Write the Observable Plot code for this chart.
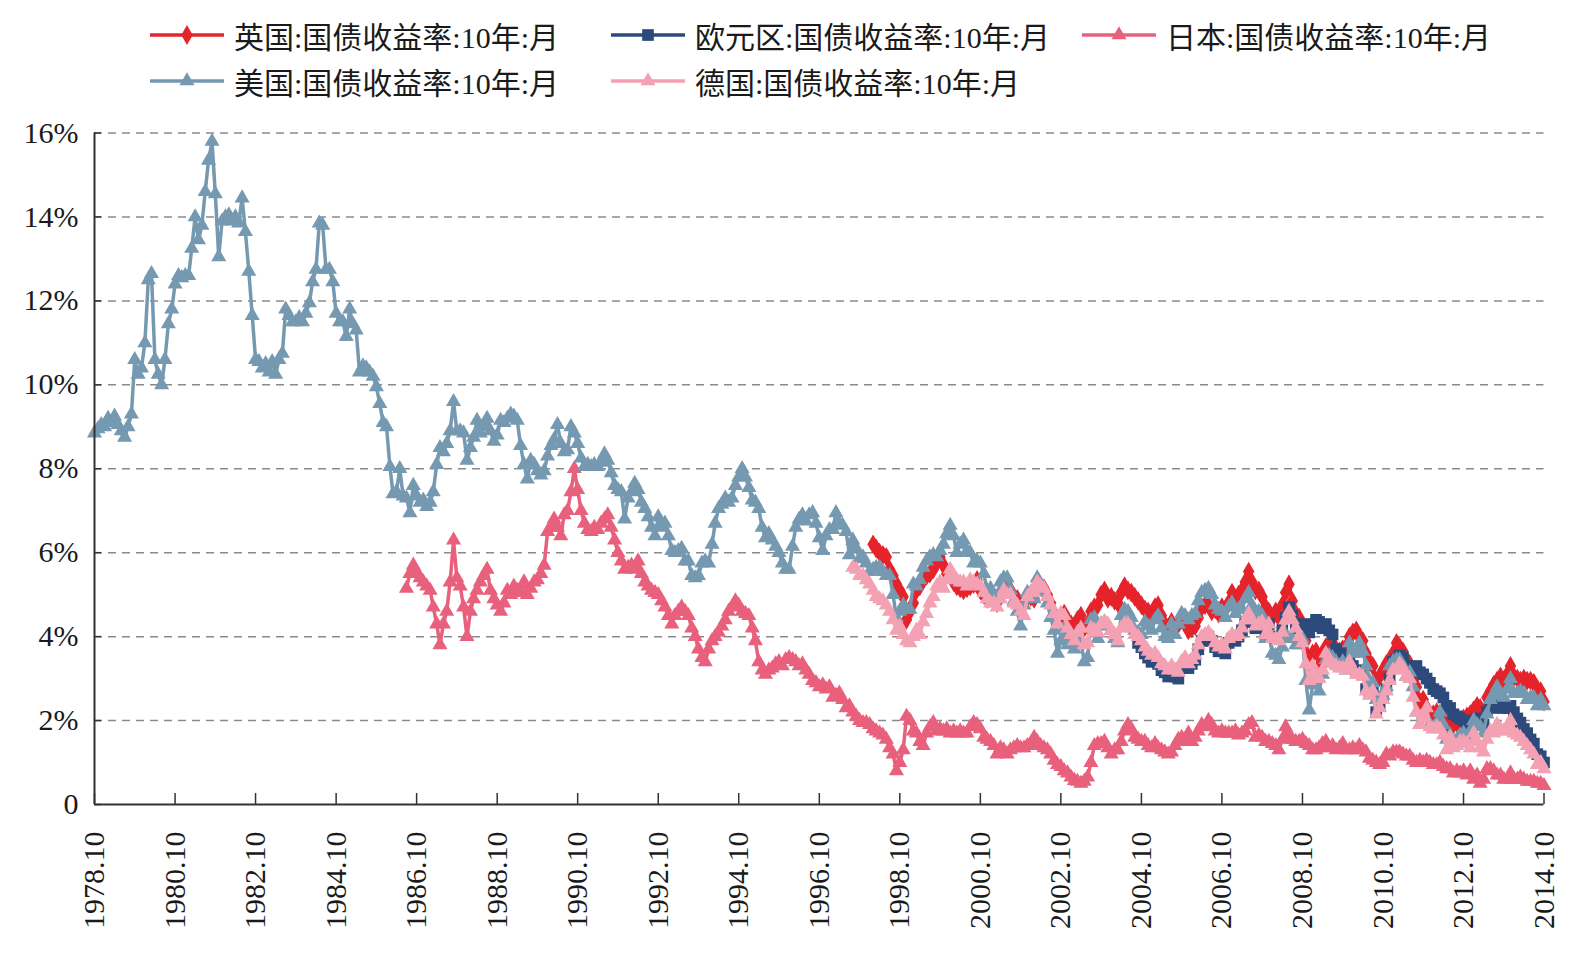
<!DOCTYPE html>
<html lang="zh">
<head>
<meta charset="utf-8">
<script src="https://cdn.jsdelivr.net/npm/d3@7"></script>
<script src="https://cdn.jsdelivr.net/npm/@observablehq/plot@0.6"></script>
<style>
  html, body { margin: 0; padding: 0; background: #fff; }
  body { width: 1586px; height: 953px; overflow: hidden; font-family: "Liberation Serif", "Noto Sans CJK SC", serif; }
  #legend { position: relative; width: 1586px; height: 105px; }
  .key { position: absolute; display: flex; align-items: center; height: 40px; font-size: 30px; color: #1a1a1a; white-space: nowrap; }
  .key svg { margin-right: 8px; }
  #chart svg { display: block; }
</style>
</head>
<body>
<div id="legend"></div>
<div id="chart"></div>
<script>
// 10-year government bond yields, month-end, in percent.
// Each series starts at the month given in its *Start constant.

const ukStart = "1998.02";
const ukYield = [
  6.2, 6.1, 6.0, 5.95, 5.9, 5.6, 5.45, 5.25, 5.1, 4.95, 4.4,
  4.6, 4.8, 5.1, 5.2, 5.35, 5.45, 5.5, 5.6, 5.75, 5.9, 5.7, 5.5,
  5.45, 5.3, 5.2, 5.15, 5.1, 5.15, 5.2, 5.25, 5.35, 5.1, 5.0, 4.9,
  4.95, 4.85, 4.8, 5.05, 5.2, 5.25, 5.1, 4.95, 4.9, 4.7, 4.8, 5.0,
  4.95, 4.9, 5.3, 5.2, 5.15, 5.0, 4.8, 4.55, 4.4, 4.5, 4.55, 4.4,
  4.3, 4.25, 4.4, 4.5, 4.2, 4.3, 4.6, 4.7, 4.75, 5.0, 5.1, 4.9,
  4.95, 4.85, 4.8, 5.05, 5.2, 5.1, 5.05, 4.95, 4.85, 4.75, 4.65, 4.6,
  4.55, 4.7, 4.75, 4.5, 4.3, 4.2, 4.35, 4.2, 4.3, 4.4, 4.3, 4.15,
  4.2, 4.25, 4.45, 4.7, 4.75, 4.75, 4.6, 4.65, 4.55, 4.7, 4.65, 4.8,
  5.05, 4.85, 5.0, 5.1, 5.3, 5.55, 5.3, 5.1, 5.1, 4.95, 4.7, 4.6,
  4.45, 4.6, 4.45, 4.75, 5.05, 5.25, 4.85, 4.55, 4.45, 4.2, 3.9, 3.4,
  3.6, 3.65, 3.3, 3.6, 3.75, 3.7, 3.85, 3.65, 3.65, 3.7, 3.75, 4.0,
  4.1, 4.15, 4.0, 3.9, 3.6, 3.4, 3.3, 2.95, 3.05, 3.2, 3.35, 3.45,
  3.6, 3.85, 3.75, 3.65, 3.45, 3.35, 2.95, 2.8, 2.45, 2.5, 2.3, 2.1,
  2.15, 2.2, 2.15, 2.1, 1.9, 1.95, 1.9, 1.95, 2.0, 2.05, 2.1, 2.15,
  2.25, 2.35, 2.3, 2.2, 2.55, 2.7, 2.85, 2.95, 3.05, 2.95, 3.1, 3.3,
  3.05, 3.0, 2.95, 3.0, 2.95, 2.95, 2.9, 2.75, 2.7, 2.45
];

const euStart = "2004.09";
const euYield = [
  3.85, 3.75, 3.6, 3.5,
  3.4, 3.45, 3.35, 3.2, 3.15, 3.05, 3.15, 3.05, 3.0, 3.25, 3.35, 3.25,
  3.35, 3.45, 3.7, 3.9, 3.95, 4.0, 3.9, 3.75, 3.65, 3.7, 3.6, 3.85,
  3.95, 3.9, 4.0, 4.15, 4.35, 4.5, 4.35, 4.2, 4.25, 4.3, 4.05, 4.3,
  4.0, 4.0, 3.95, 4.15, 4.45, 4.7, 4.5, 4.3, 4.2, 4.2, 4.3, 4.1,
  4.25, 4.4, 4.35, 4.2, 4.3, 4.15, 4.05, 3.7, 3.6, 3.55, 3.5, 3.55,
  3.3, 3.2, 3.15, 3.1, 2.75, 2.65, 2.75, 2.2, 2.35, 2.55, 2.75, 3.0,
  3.4, 3.45, 3.55, 3.5, 3.3, 3.25, 3.2, 3.3, 3.15, 3.1, 3.0, 2.9,
  2.75, 2.7, 2.65, 2.55, 2.35, 2.3, 2.15, 2.1, 2.05, 2.0, 1.95, 1.9,
  2.0, 2.05, 1.95, 1.9, 2.2, 2.35, 2.3, 2.4, 2.35, 2.3, 2.3, 2.35,
  2.2, 2.05, 1.95, 1.8, 1.7, 1.55, 1.45, 1.2, 1.15, 1.0
];

const jpStart = "1986.07";
const jpYield = [
  5.15, 5.5, 5.7, 5.55, 5.4, 5.3,
  5.2, 5.1, 4.7, 4.3, 3.8, 4.3, 4.6, 5.3, 6.3, 5.4, 5.2, 4.7,
  4.0, 4.6, 4.9, 5.1, 5.3, 5.45, 5.6, 5.1, 4.9, 4.75, 4.6, 4.8,
  5.1, 5.0, 5.2, 5.1, 5.05, 5.3, 5.0, 5.15, 5.3, 5.35, 5.5, 5.7,
  6.5, 6.6, 6.8, 6.6, 6.4, 6.9, 7.0, 7.45, 8.0, 7.5, 7.0, 6.7,
  6.55, 6.5, 6.6, 6.55, 6.7, 6.8, 6.9, 6.6, 6.3, 6.0, 5.8, 5.6,
  5.65, 5.7, 5.6, 5.8, 5.5, 5.3, 5.2, 5.1, 5.05, 5.0, 4.85, 4.7,
  4.5, 4.3, 4.5, 4.6, 4.7, 4.6, 4.5, 4.2, 4.0, 3.7, 3.5, 3.4,
  3.7, 3.9, 4.0, 4.1, 4.25, 4.4, 4.6, 4.7, 4.85, 4.75, 4.6, 4.55,
  4.5, 4.2, 3.9, 3.4, 3.2, 3.1, 3.2, 3.25, 3.35, 3.4, 3.3, 3.45,
  3.5, 3.45, 3.4, 3.3, 3.35, 3.2, 3.1, 2.95, 2.9, 2.8, 2.85, 2.75,
  2.8, 2.55, 2.6, 2.65, 2.5, 2.3, 2.35, 2.2, 2.1, 2.0, 1.95, 1.95,
  1.9, 1.8, 1.75, 1.7, 1.65, 1.55, 1.35, 1.2, 0.8, 1.0, 1.3, 2.1,
  2.0, 1.75, 1.7, 1.5, 1.4, 1.7, 1.85, 1.95, 1.75, 1.8, 1.75, 1.8,
  1.7, 1.75, 1.7, 1.75, 1.7, 1.7, 1.85, 1.95, 1.9, 1.8, 1.6, 1.55,
  1.5, 1.4, 1.2, 1.35, 1.3, 1.2, 1.3, 1.35, 1.4, 1.35, 1.35, 1.4,
  1.45, 1.6, 1.5, 1.4, 1.35, 1.3, 1.2, 1.05, 0.95, 0.9, 0.8, 0.75,
  0.65, 0.57, 0.55, 0.5, 0.55, 0.65, 1.0, 1.4, 1.45, 1.45, 1.5, 1.35,
  1.2, 1.3, 1.3, 1.5, 1.75, 1.9, 1.8, 1.6, 1.55, 1.5, 1.5, 1.4,
  1.35, 1.45, 1.35, 1.3, 1.25, 1.2, 1.25, 1.4, 1.55, 1.6, 1.5, 1.7,
  1.5, 1.6, 1.75, 1.9, 1.85, 2.0, 1.9, 1.75, 1.7, 1.75, 1.7, 1.7,
  1.7, 1.75, 1.65, 1.7, 1.75, 1.9, 1.95, 1.6, 1.65, 1.6, 1.5, 1.5,
  1.45, 1.4, 1.3, 1.55, 1.85, 1.65, 1.55, 1.5, 1.5, 1.55, 1.45, 1.4,
  1.3, 1.3, 1.35, 1.45, 1.5, 1.35, 1.4, 1.3, 1.35, 1.45, 1.3, 1.3,
  1.35, 1.3, 1.4, 1.3, 1.25, 1.1, 1.05, 1.0, 0.95, 1.0, 1.2, 1.15,
  1.25, 1.25, 1.25, 1.2, 1.15, 1.15, 1.05, 1.0, 1.05, 1.0, 1.05, 1.0,
  0.95, 0.95, 1.0, 0.9, 0.85, 0.85, 0.75, 0.8, 0.75, 0.8, 0.7, 0.8,
  0.6, 0.7, 0.5, 0.6, 0.85, 0.85, 0.8, 0.7, 0.7, 0.6, 0.6, 0.75,
  0.6, 0.6, 0.65, 0.6, 0.55, 0.55, 0.55, 0.5, 0.5, 0.45
];

const usStart = "1978.10";
const usYield = [
  8.85, 8.95, 9.05,
  9.0, 9.2, 9.1, 9.25, 9.05, 8.9, 8.75, 9.0, 9.3, 10.6, 10.25, 10.4,
  11.0, 12.5, 12.65, 10.6, 10.25, 10.0, 10.6, 11.45, 11.8, 12.4, 12.6, 12.55,
  12.6, 12.6, 13.25, 14.0, 13.45, 13.8, 14.6, 15.35, 15.8, 14.55, 13.05, 13.9,
  14.0, 14.05, 13.9, 14.0, 13.85, 14.45, 13.65, 12.7, 11.65, 10.6, 10.55, 10.4,
  10.5, 10.3, 10.55, 10.25, 10.6, 10.75, 11.8, 11.65, 11.5, 11.5, 11.6, 11.5,
  11.7, 11.95, 12.45, 12.75, 13.85, 13.8, 12.75, 12.75, 12.45, 11.7, 11.5, 11.5,
  11.15, 11.8, 11.45, 11.3, 10.3, 10.45, 10.4, 10.3, 10.2, 9.95, 9.55, 9.1,
  9.0, 8.05, 7.4, 7.45, 8.0, 7.35, 7.3, 6.95, 7.6, 7.35, 7.2, 7.25,
  7.1, 7.2, 7.45, 8.1, 8.5, 8.4, 8.6, 8.9, 9.6, 8.9, 8.9, 8.85,
  8.2, 8.5, 8.75, 9.15, 8.85, 9.0, 9.2, 8.9, 8.65, 8.8, 9.15, 9.1,
  9.2, 9.3, 9.25, 9.15, 8.55, 8.1, 7.75, 8.2, 8.1, 7.95, 7.85, 7.95,
  8.3, 8.55, 8.7, 9.05, 8.6, 8.4, 8.45, 9.0, 8.85, 8.6, 8.25, 8.05,
  8.1, 8.05, 8.1, 8.05, 8.15, 8.35, 8.2, 7.9, 7.6, 7.5, 7.45, 6.8,
  7.3, 7.45, 7.65, 7.5, 7.2, 7.05, 6.85, 6.6, 6.4, 6.85, 6.6, 6.7,
  6.4, 6.05, 6.0, 6.05, 6.1, 5.8, 5.8, 5.45, 5.4, 5.45, 5.75, 5.8,
  5.75, 6.2, 6.7, 7.05, 7.15, 7.3, 7.2, 7.3, 7.6, 7.8, 8.0, 7.8,
  7.55, 7.25, 7.2, 7.05, 6.6, 6.35, 6.45, 6.3, 6.15, 6.0, 5.75, 5.6,
  5.6, 6.15, 6.6, 6.8, 6.9, 6.75, 6.9, 6.95, 6.7, 6.35, 6.05, 6.4,
  6.55, 6.55, 6.95, 6.7, 6.65, 6.5, 5.95, 6.3, 6.1, 5.85, 5.9, 5.75,
  5.55, 5.6, 5.65, 5.65, 5.55, 5.45, 5.45, 5.0, 4.45, 4.6, 4.75, 4.65,
  4.65, 5.25, 5.2, 5.35, 5.65, 5.8, 5.9, 5.95, 5.9, 6.05, 6.2, 6.45,
  6.65, 6.4, 6.0, 6.2, 6.3, 6.05, 6.0, 5.75, 5.8, 5.75, 5.5, 5.1,
  5.15, 4.9, 4.9, 5.3, 5.4, 5.4, 5.1, 4.85, 4.6, 4.25, 4.75, 5.05,
  5.05, 4.9, 5.4, 5.1, 5.05, 4.8, 4.45, 4.15, 3.6, 3.9, 4.2, 3.8,
  4.0, 3.7, 3.8, 3.9, 3.4, 3.5, 4.4, 4.45, 3.95, 4.3, 4.35, 4.25,
  4.15, 3.95, 3.85, 4.5, 4.65, 4.6, 4.45, 4.15, 4.1, 4.05, 4.35, 4.25,
  4.15, 4.4, 4.5, 4.2, 4.0, 3.95, 4.3, 4.05, 4.3, 4.55, 4.5, 4.4,
  4.5, 4.55, 4.85, 5.05, 5.1, 5.15, 5.0, 4.75, 4.65, 4.6, 4.45, 4.7,
  4.8, 4.55, 4.65, 4.65, 4.9, 5.05, 4.75, 4.55, 4.6, 4.5, 3.95, 4.05,
  3.6, 3.55, 3.45, 3.75, 4.05, 3.95, 3.95, 3.8, 3.8, 3.95, 2.95, 2.25,
  2.85, 3.0, 2.7, 3.1, 3.45, 3.55, 3.5, 3.4, 3.3, 3.4, 3.2, 3.85,
  3.6, 3.6, 3.85, 3.65, 3.3, 2.95, 2.9, 2.5, 2.5, 2.6, 2.8, 3.3,
  3.4, 3.45, 3.45, 3.3, 3.05, 3.15, 2.8, 2.2, 1.9, 2.1, 2.05, 1.9,
  1.8, 1.95, 2.2, 1.9, 1.55, 1.65, 1.5, 1.55, 1.65, 1.7, 1.6, 1.75,
  2.0, 1.9, 1.85, 1.7, 2.15, 2.5, 2.6, 2.8, 2.6, 2.55, 2.75, 3.0,
  2.65, 2.65, 2.7, 2.65, 2.5, 2.55, 2.55, 2.35, 2.5, 2.35
];

const deStart = "1997.08";
const deYield = [
  5.65, 5.6, 5.45, 5.45, 5.35,
  5.25, 5.1, 4.95, 4.9, 4.85, 4.75, 4.6, 4.4, 4.15, 4.25, 4.05, 3.9,
  3.85, 4.0, 4.15, 4.05, 4.35, 4.55, 4.8, 4.95, 5.2, 5.3, 5.15, 5.35,
  5.6, 5.45, 5.35, 5.3, 5.3, 5.2, 5.35, 5.3, 5.25, 5.2, 5.05, 4.9,
  4.8, 4.8, 4.7, 4.9, 5.1, 5.0, 5.0, 4.8, 4.75, 4.6, 4.5, 4.95,
  5.05, 5.05, 5.3, 5.2, 5.15, 4.95, 4.75, 4.55, 4.3, 4.55, 4.5, 4.2,
  4.05, 3.9, 4.1, 4.2, 3.8, 3.85, 4.2, 4.15, 4.1, 4.3, 4.35, 4.3,
  4.15, 4.05, 3.9, 4.2, 4.3, 4.3, 4.2, 4.05, 4.0, 3.9, 3.75, 3.65,
  3.55, 3.6, 3.5, 3.35, 3.3, 3.2, 3.3, 3.2, 3.15, 3.4, 3.5, 3.35,
  3.45, 3.55, 3.8, 4.0, 4.05, 4.1, 4.0, 3.85, 3.75, 3.8, 3.7, 3.95,
  4.05, 4.0, 4.05, 4.2, 4.4, 4.55, 4.4, 4.25, 4.3, 4.35, 4.05, 4.3,
  3.95, 3.95, 3.9, 4.1, 4.4, 4.6, 4.4, 4.2, 4.0, 3.85, 3.35, 2.95,
  3.3, 3.1, 3.0, 3.2, 3.6, 3.4, 3.35, 3.3, 3.25, 3.25, 3.2, 3.4,
  3.2, 3.1, 3.1, 3.05, 2.7, 2.6, 2.7, 2.15, 2.3, 2.5, 2.7, 2.95,
  3.2, 3.2, 3.35, 3.25, 3.05, 3.0, 2.55, 2.2, 1.9, 2.05, 2.3, 1.85,
  1.8, 1.85, 1.8, 1.65, 1.3, 1.6, 1.35, 1.4, 1.5, 1.5, 1.45, 1.35,
  1.7, 1.5, 1.35, 1.25, 1.55, 1.75, 1.7, 1.9, 1.8, 1.75, 1.75, 2.0,
  1.7, 1.65, 1.6, 1.5, 1.4, 1.3, 1.2, 0.95, 1.0, 0.85
];

const seriesNames = [
  "英国:国债收益率:10年:月",
  "欧元区:国债收益率:10年:月",
  "日本:国债收益率:10年:月",
  "美国:国债收益率:10年:月",
  "德国:国债收益率:10年:月"
];

const xTickLabels = ["1978.10", "1980.10", "1982.10", "1984.10", "1986.10", "1988.10", "1990.10",
  "1992.10", "1994.10", "1996.10", "1998.10", "2000.10", "2002.10", "2004.10", "2006.10",
  "2008.10", "2010.10", "2012.10", "2014.10"];
const yTickValues = [0, 2, 4, 6, 8, 10, 12, 14, 16];
const yTickLabels = ["0", "2%", "4%", "6%", "8%", "10%", "12%", "14%", "16%"];

// ---- drawing ----
const parseMonth = s => new Date(Date.UTC(+s.slice(0, 4), +s.slice(5) - 1, 1));
const monthly = (start, values) => {
  const d0 = parseMonth(start);
  return values.map((v, i) => ({
    date: new Date(Date.UTC(d0.getUTCFullYear(), d0.getUTCMonth() + i, 1)),
    value: v
  }));
};

const styles = [
  {color: "#e5232b", symbol: "diamond", r: 6},
  {color: "#2c4a7c", symbol: "square", r: 6.6},
  {color: "#e8607c", symbol: "triangle", r: 5.6},
  {color: "#7599b0", symbol: "triangle", r: 5.6},
  {color: "#f3a1b3", symbol: "triangle", r: 5.6}
];
const tables = [
  monthly(ukStart, ukYield),
  monthly(euStart, euYield),
  monthly(jpStart, jpYield),
  monthly(usStart, usYield),
  monthly(deStart, deYield)
];

const xTicks = xTickLabels.map(parseMonth);
const xDomain = [xTicks[0], xTicks[xTicks.length - 1]];

const seriesMarks = tables.flatMap((t, i) => [
  Plot.line(t, {x: "date", y: "value", stroke: styles[i].color, strokeWidth: 3.5}),
  Plot.dot(t, {x: "date", y: "value", symbol: styles[i].symbol, r: styles[i].r, fill: styles[i].color, stroke: "none"})
]);

const chart = Plot.plot({
  width: 1586,
  height: 848,
  marginLeft: 94,
  marginRight: 42.5,
  marginTop: 27.5,
  marginBottom: 149,
  style: {fontFamily: "'Liberation Serif', serif", fontSize: "30px", color: "#1a1a1a", background: "#fff"},
  x: {type: "utc", domain: xDomain, label: null},
  y: {domain: [0, 16], label: null},
  marks: [
    Plot.ruleY(yTickValues.filter(v => v > 0), {stroke: "#8a8a8a", strokeWidth: 1.5, strokeDasharray: "8,6"}),
    ...seriesMarks,
    Plot.ruleY([0], {stroke: "#333", strokeWidth: 2}),
    Plot.ruleX([xDomain[0]], {stroke: "#333", strokeWidth: 2}),
    Plot.axisY({
      ticks: yTickValues, tickSize: 7, dx: 7, tickPadding: 16, strokeWidth: 1.5, stroke: "#333",
      tickFormat: v => yTickLabels[yTickValues.indexOf(v)], fontSize: 30, label: null
    }),
    Plot.axisX({
      ticks: xTicks, tickSize: 11, dy: -11, tickPadding: 27, tickRotate: -90, strokeWidth: 1.5, stroke: "#333",
      tickFormat: d => xTickLabels[xTicks.findIndex(t => +t === +d)], fontSize: 30, label: null
    })
  ]
});
document.getElementById("chart").appendChild(chart);

// ---- legend ----
const legendPos = [[150, 15], [611, 15], [1082, 15], [150, 61], [611, 61]];
const legend = d3.select("#legend");
const symbolType = {diamond: d3.symbolDiamond, square: d3.symbolSquare, triangle: d3.symbolTriangle};
seriesNames.forEach((name, i) => {
  const st = styles[i];
  const key = legend.append("div").attr("class", "key")
    .style("left", legendPos[i][0] + "px").style("top", legendPos[i][1] + "px");
  const svg = key.append("svg").attr("width", 76).attr("height", 40);
  svg.append("line").attr("x1", 0).attr("x2", 74).attr("y1", 20).attr("y2", 20)
    .attr("stroke", st.color).attr("stroke-width", 3.5);
  svg.append("path").attr("transform", "translate(37,20)")
    .attr("d", d3.symbol(symbolType[st.symbol], Math.PI * st.r * st.r)())
    .attr("fill", st.color);
  key.append("span").text(name);
});
</script>
</body>
</html>
